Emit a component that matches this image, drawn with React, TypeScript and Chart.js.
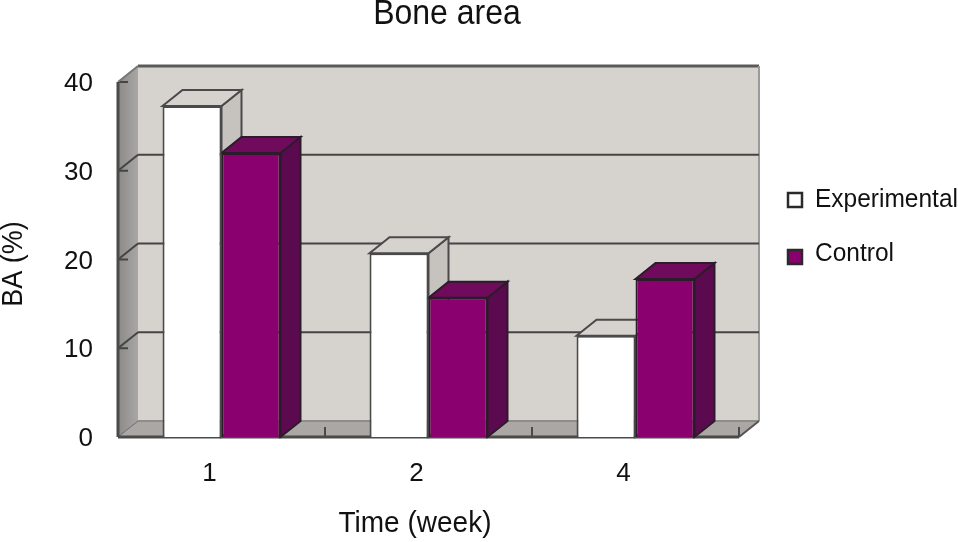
import React, { useEffect, useRef } from "react";
import { Chart, registerables } from "chart.js";

Chart.register(...registerables);

const weeks = ["1", "2", "4"];
const experimental = [37.3, 20.7, 11.4];
const control = [32, 15.7, 17.8];
const titleText = "Bone area";
const xTitle = "Time (week)";
const yTitle = "BA (%)";

const DX = 20;
const DY = 16;
const FONT = '"Liberation Sans", Arial, sans-serif';
const INK = "#111111";
const LINE = "#444444";
const faces = [
  { front: "#ffffff", top: "#d6d2ce", side: "#c6c3bf", edge: "#4a4a4a" },
  { front: "#8a006e", top: "#6f0a5c", side: "#5c0a50", edge: "#2c1c2a" },
];

const poly = (ctx: CanvasRenderingContext2D, pts: number[][], fill?: any, stroke?: string, w = 2) => {
  ctx.beginPath();
  pts.forEach(([x, y], i) => (i ? ctx.lineTo(x, y) : ctx.moveTo(x, y)));
  ctx.closePath();
  if (fill) {
    ctx.fillStyle = fill;
    ctx.fill();
  }
  if (stroke) {
    ctx.strokeStyle = stroke;
    ctx.lineWidth = w;
    ctx.lineJoin = "miter";
    ctx.stroke();
  }
};

const seg = (ctx: CanvasRenderingContext2D, x1: number, y1: number, x2: number, y2: number, color = LINE, w = 2) => {
  ctx.beginPath();
  ctx.moveTo(x1, y1);
  ctx.lineTo(x2, y2);
  ctx.strokeStyle = color;
  ctx.lineWidth = w;
  ctx.stroke();
};

const tallText = (ctx: CanvasRenderingContext2D, text: string, x: number, y: number, size: number, k: number) => {
  ctx.save();
  ctx.translate(x, y);
  ctx.scale(1, k);
  ctx.font = `${size}px ${FONT}`;
  ctx.fillText(text, 0, 0);
  ctx.restore();
};

const threeD = {
  id: "threeD",
  beforeDatasetsDraw(chart: any) {
    const { ctx, chartArea: a, scales } = chart;
    const y = scales.y;
    const x = scales.x;
    ctx.save();
    // back wall
    ctx.fillStyle = "#d6d2ce";
    ctx.fillRect(a.left + DX, a.top - DY, a.width, a.height);
    seg(ctx, a.left + DX, a.top - DY, a.right + DX, a.top - DY, "#5a5a5a", 3);
    seg(ctx, a.right + DX, a.top - DY, a.right + DX, a.bottom - DY, "#9a9a9a", 2);
    // left wall
    const g = ctx.createLinearGradient(a.left, 0, a.left + DX, 0);
    g.addColorStop(0, "#8c8a88");
    g.addColorStop(1, "#a9a7a5");
    poly(ctx, [[a.left, a.top], [a.left + DX, a.top - DY], [a.left + DX, a.bottom - DY], [a.left, a.bottom]], g);
    // floor
    poly(ctx, [[a.left, a.bottom], [a.left + DX, a.bottom - DY], [a.right + DX, a.bottom - DY], [a.right, a.bottom]], "#aaa7a4");
    seg(ctx, a.left + DX, a.bottom - DY, a.right + DX, a.bottom - DY, "#8f8d8b", 2);
    // grid lines
    y.ticks.forEach((t: any) => {
      const p = y.getPixelForValue(t.value);
      if (t.value > 0 && t.value < 40) {
        seg(ctx, a.left, p, a.left + DX, p - DY);
        seg(ctx, a.left + DX, p - DY, a.right + DX, p - DY);
      }
      seg(ctx, a.left, p, a.left + 10, p);
    });
    seg(ctx, a.left, a.top, a.left + DX, a.top - DY, "#777777", 2);
    seg(ctx, a.left, a.bottom, a.left + DX, a.bottom - DY, "#666666", 1);
    seg(ctx, a.right, a.bottom, a.right + DX, a.bottom - DY, "#555555", 2);
    seg(ctx, a.left, a.top, a.left, a.bottom, "#4a4a4a", 3);
    seg(ctx, a.left, a.bottom, a.right, a.bottom, "#4a4a4a", 3);
    // category ticks on the floor edge
    const catW = a.width / weeks.length;
    weeks.forEach((_, i) => {
      const p = x.getPixelForValue(i) + catW / 2;
      seg(ctx, p, a.bottom, p, a.bottom - 10, "#4a4a4a", 2);
    });
    // bar depth faces
    chart.data.datasets.forEach((_: any, di: number) => {
      const f = faces[di];
      chart.getDatasetMeta(di).data.forEach((bar: any) => {
        const l = bar.x - bar.width / 2;
        const r = bar.x + bar.width / 2;
        const t = bar.y;
        const b = bar.base;
        poly(ctx, [[r, t], [r + DX, t - DY], [r + DX, b - DY], [r, b]], f.side, f.edge, 2);
        poly(ctx, [[l, t], [l + DX, t - DY], [r + DX, t - DY], [r, t]], f.top, f.edge, 2);
      });
    });
    ctx.restore();
  },
  afterDraw(chart: any) {
    const { ctx } = chart;
    ctx.save();
    ctx.fillStyle = INK;
    ctx.textBaseline = "middle";
    ctx.textAlign = "center";
    tallText(ctx, titleText, 447, 14, 32, 1.08);
    tallText(ctx, xTitle, 415, 524, 28, 1.06);
    ctx.save();
    ctx.translate(14, 264);
    ctx.rotate(-Math.PI / 2);
    ctx.scale(1, 1.06);
    ctx.font = `27px ${FONT}`;
    ctx.fillText(yTitle, 0, 0);
    ctx.restore();
    // legend
    ctx.textAlign = "left";
    chart.data.datasets.forEach((d: any, i: number) => {
      const my = i === 0 ? 192 : 249;
      ctx.fillStyle = faces[i].front;
      ctx.fillRect(788, my + 1, 14, 14);
      ctx.strokeStyle = "#2a2a2a";
      ctx.lineWidth = 2.5;
      ctx.strokeRect(788, my + 1, 14, 14);
      ctx.fillStyle = INK;
      tallText(ctx, d.label, 815, i === 0 ? 200 : 254, 24.5, 1.06);
    });
    ctx.restore();
  },
};

export default function App() {
  const ref = useRef<HTMLCanvasElement>(null);
  useEffect(() => {
    document.body.style.margin = "0";
    const chart = new Chart(ref.current!, {
      type: "bar",
      data: {
        labels: weeks,
        datasets: [
          { label: "Experimental", data: experimental, backgroundColor: faces[0].front, borderColor: faces[0].edge, borderWidth: 2 },
          { label: "Control", data: control, backgroundColor: faces[1].front, borderColor: faces[1].edge, borderWidth: 2 },
        ],
      },
      options: {
        responsive: false,
        animation: false,
        layout: { padding: { left: 0, top: 82, right: 219, bottom: 0 } },
        plugins: { legend: { display: false }, title: { display: false }, tooltip: { enabled: false } },
        datasets: { bar: { categoryPercentage: 0.57, barPercentage: 1 } },
        scales: {
          x: {
            grid: { display: false, drawTicks: false },
            border: { display: false },
            afterFit: (s: any) => { s.height = 105; },
            ticks: { color: INK, font: { family: FONT, size: 26 }, padding: 21, labelOffset: -12, maxRotation: 0 },
          },
          y: {
            min: 0,
            max: 40,
            grid: { display: false, drawTicks: false },
            border: { display: false },
            afterFit: (s: any) => { s.width = 118; },
            ticks: { stepSize: 10, color: INK, font: { family: FONT, size: 26 }, padding: 25, labelOffset: 2 },
          },
        },
      },
      plugins: [threeD],
    } as any);
    return () => chart.destroy();
  }, []);
  return <canvas ref={ref} width={958} height={542} style={{ display: "block" }} />;
}
